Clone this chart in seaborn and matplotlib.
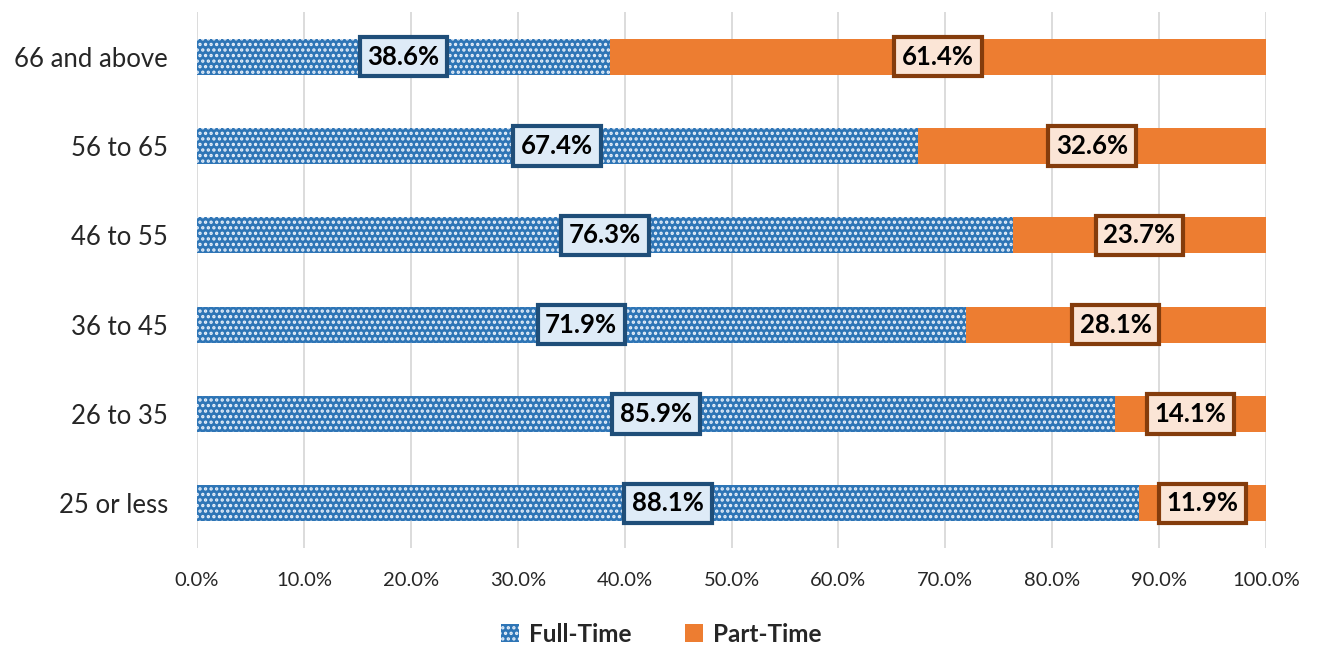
import matplotlib
matplotlib.use("Agg")
import matplotlib.pyplot as plt
import seaborn as sns
import pandas as pd

# Age groups (top to bottom as displayed) and shares of employment type
age_groups = ["66 and above", "56 to 65", "46 to 55", "36 to 45", "26 to 35", "25 or less"]
full_time = [38.6, 67.4, 76.3, 71.9, 85.9, 88.1]
part_time = [61.4, 32.6, 23.7, 28.1, 14.1, 11.9]
x_ticks = [0, 10, 20, 30, 40, 50, 60, 70, 80, 90, 100]

sns.set_theme(style="white")
plt.rcParams["font.family"] = ["Lato", "DejaVu Sans"]
plt.rcParams["hatch.linewidth"] = 1.6

blue = "#2E75B6"
orange = "#ED7D31"

df = pd.DataFrame({"age": age_groups, "full": full_time, "part": part_time})
df["total"] = df["full"] + df["part"]

fig = plt.figure(figsize=(13.22, 6.48), dpi=100)
ax = fig.add_axes([197 / 1322, 1 - 548 / 648, (1266 - 197) / 1322, (548 - 12) / 648])

# Stacked bars: draw totals (part-time colour) first, then full-time on top
sns.barplot(data=df, x="total", y="age", orient="h", color=orange, width=0.4,
            saturation=1, ax=ax, label="Part-Time")
sns.barplot(data=df, x="full", y="age", orient="h", color=blue, width=0.4,
            saturation=1, ax=ax, label="Full-Time")

n = len(age_groups)
full_patches = ax.patches[n:]
part_patches = ax.patches[:n]
for p in full_patches:
    p.set_hatch("...")
    p.set_edgecolor("#E8F0FA")
    p.set_linewidth(0)
for p in part_patches:
    p.set_linewidth(0)

# Value labels inside each segment
for i, (f, pt) in enumerate(zip(full_time, part_time)):
    ax.text(f / 2, i, f"{f:.1f}%", ha="center", va="center", fontsize=18.5,
            fontweight="bold", color="black",
            bbox=dict(boxstyle="square,pad=0.3", fc="#DEEBF7", ec="#1F4E79", lw=3))
    ax.text(f + pt / 2, i, f"{pt:.1f}%", ha="center", va="center", fontsize=18.5,
            fontweight="bold", color="black",
            bbox=dict(boxstyle="square,pad=0.3", fc="#FBE5D6", ec="#843C0C", lw=3))

ax.set_xlim(0, 100)
ax.set_ylim(n - 0.5, -0.5)
ax.set_xticks(x_ticks)
ax.set_xticklabels([f"{t:.1f}%" for t in x_ticks], fontsize=14.5)
ax.tick_params(axis="y", labelsize=18.5, length=0, pad=21)
ax.tick_params(axis="x", length=0, pad=17)
ax.set_xlabel("")
ax.set_ylabel("")
ax.xaxis.grid(True, color="#D9D9D9", lw=1.3)
ax.set_axisbelow(True)
for s in ax.spines.values():
    s.set_visible(False)

# Legend below the plot
handles, labels = ax.get_legend_handles_labels()
order = [labels.index("Full-Time"), labels.index("Part-Time")]
leg = fig.legend([handles[i] for i in order], [labels[i] for i in order],
                 loc="center", bbox_to_anchor=(0.5, 1 - 634 / 648), ncol=2,
                 frameon=False, prop={"size": 17.5, "weight": "bold"},
                 handlelength=0.75, handleheight=0.75, columnspacing=2.2,
                 handletextpad=0.4)
if ax.get_legend() is not None:
    ax.get_legend().remove()

fig.savefig("out.png", dpi=100)
